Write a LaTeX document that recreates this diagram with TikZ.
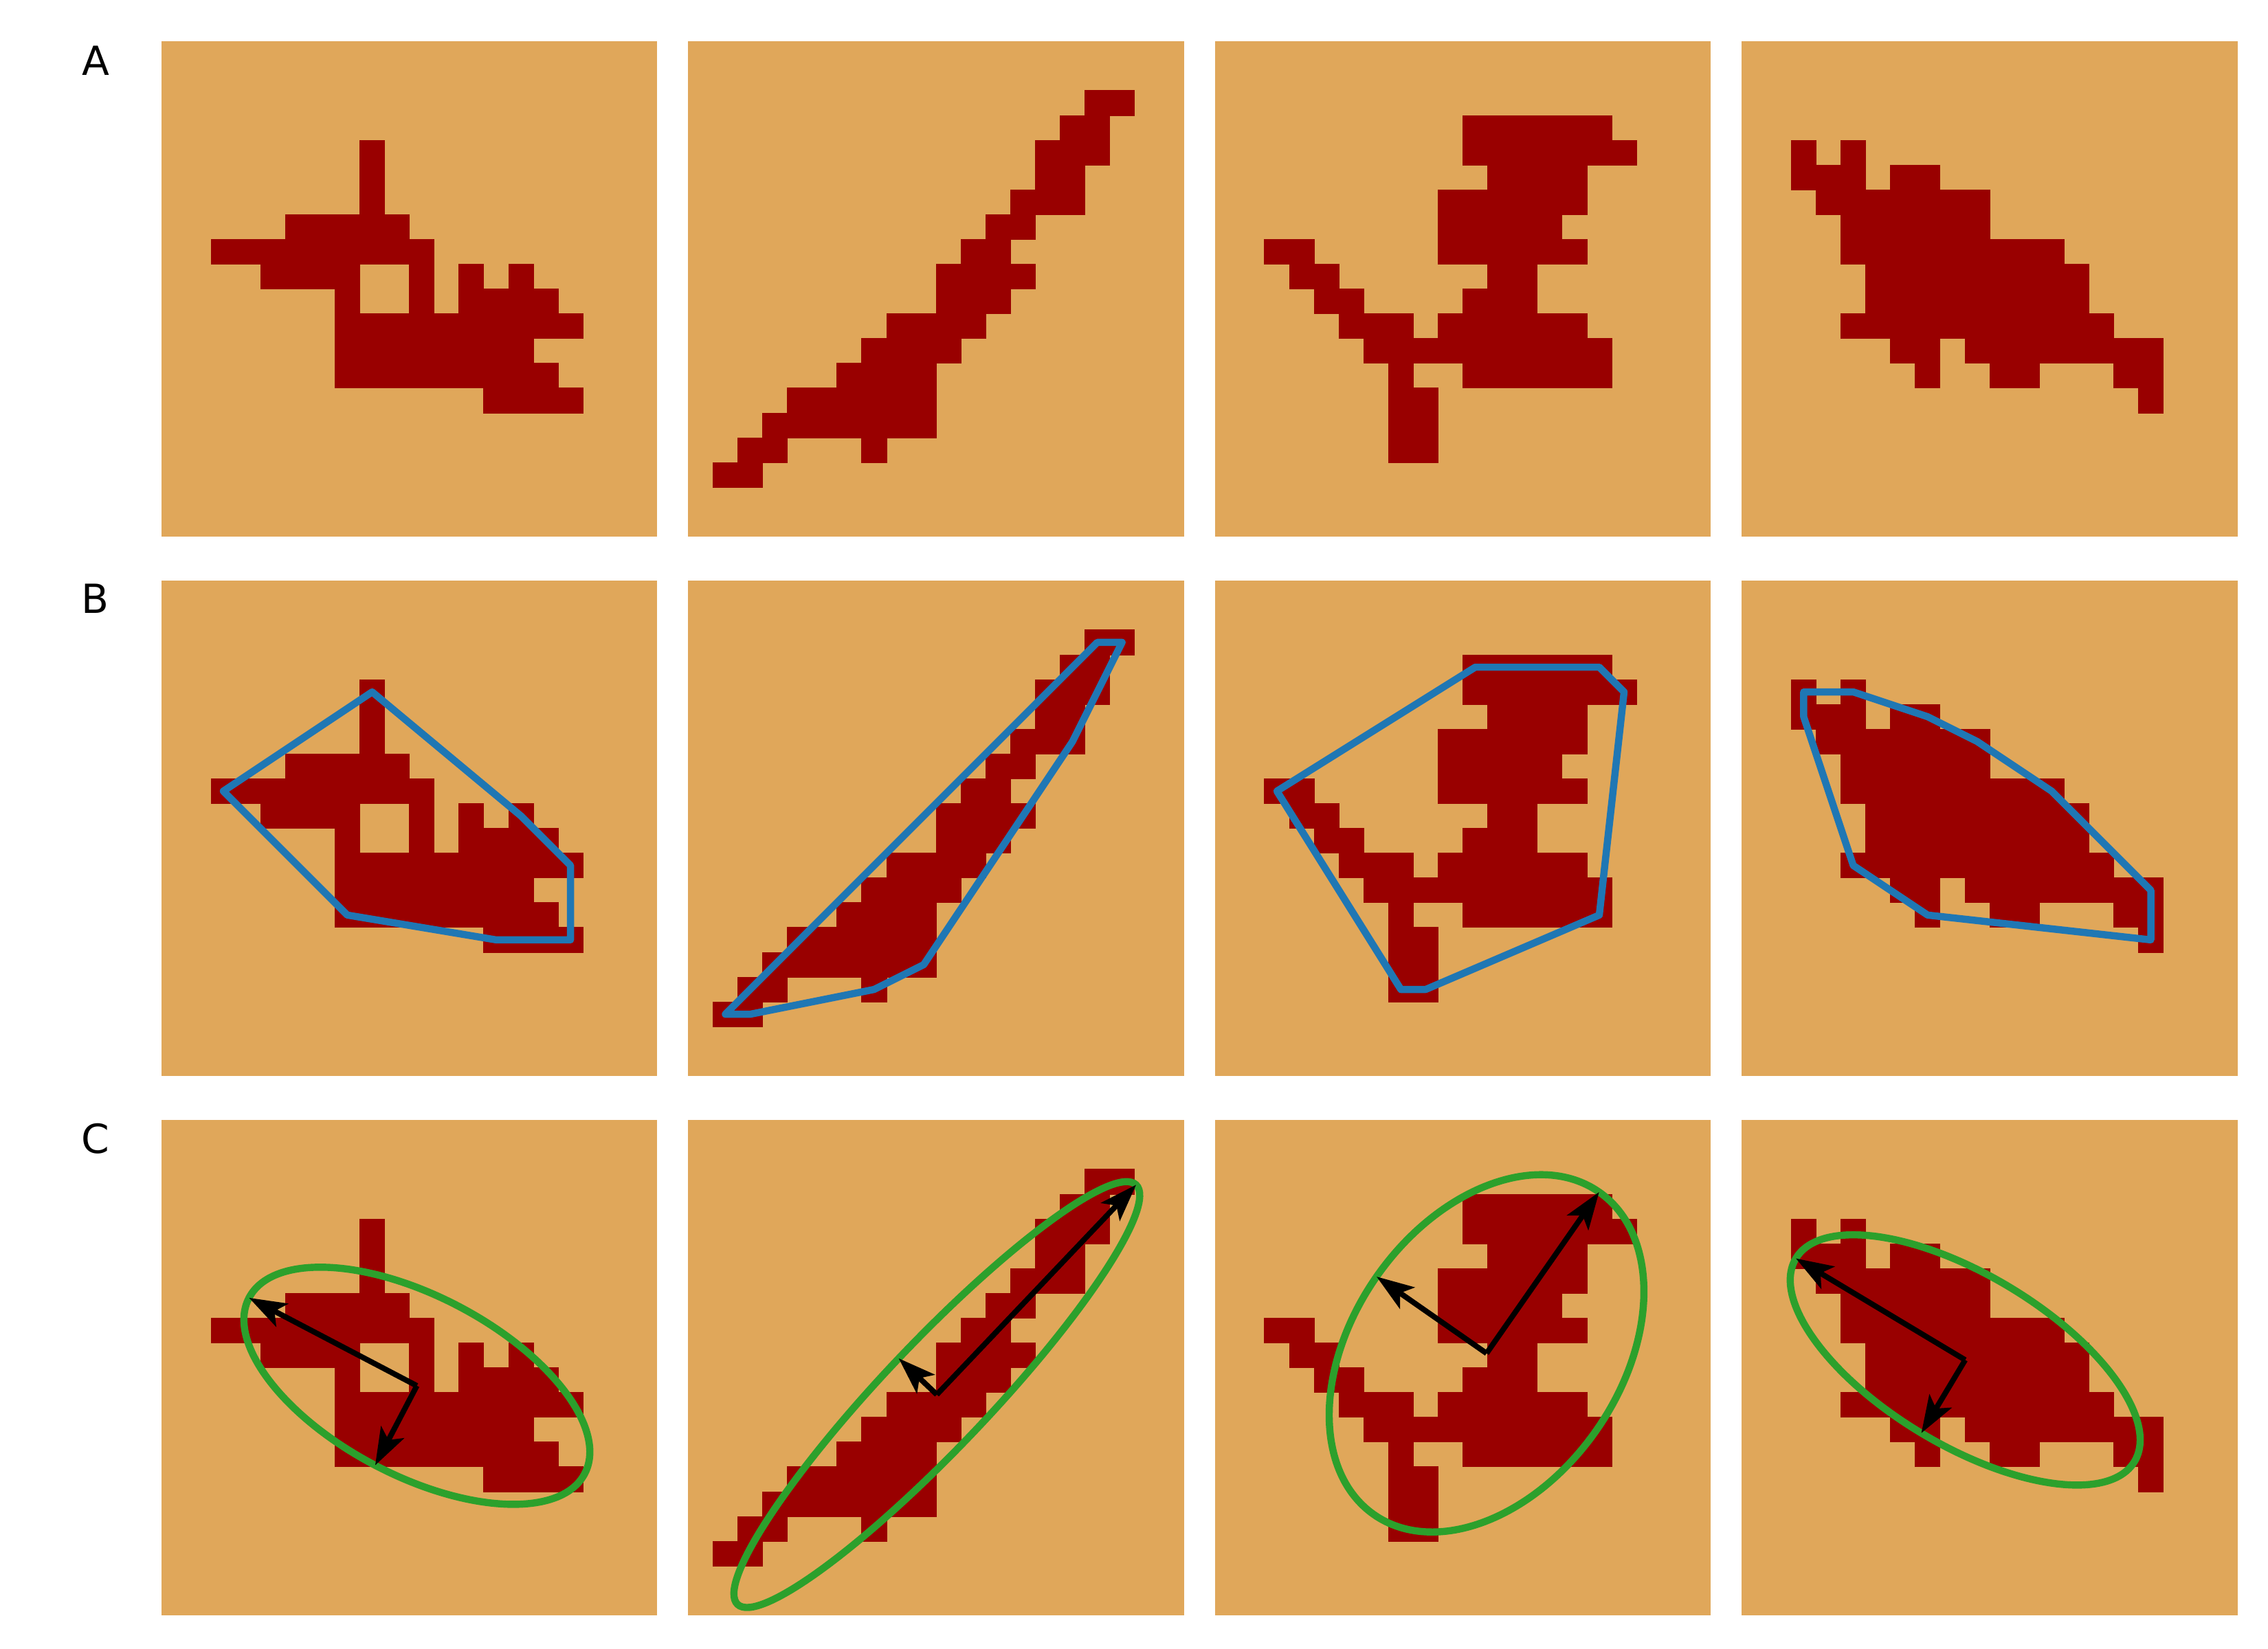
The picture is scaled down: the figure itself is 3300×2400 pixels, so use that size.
\documentclass[tikz,border=0pt]{standalone}
\usepackage{fontspec}
\setmainfont{DejaVu Sans}
\usepackage{tikz}
\usetikzlibrary{arrows.meta}

\definecolor{sand}{RGB}{224,167,90}
\definecolor{blobred}{RGB}{153,0,0}
\definecolor{hullblue}{RGB}{31,119,180}
\definecolor{fitgreen}{RGB}{44,160,44}

% pixel runs of the four shapes: row/first column/last column
\newcommand{\blobone}{\foreach \yy/\xa/\xb in {4/8/8,5/8/8,6/8/8,7/5/9,8/2/10,9/4/7,9/10/10,9/12/12,9/14/14,
    10/7/7,10/10/10,10/12/15,11/7/16,12/7/14,13/7/15,14/13/16}
    {\fill[pix] (\xa,\yy) rectangle (\xb+1,\yy+1);}}
\newcommand{\blobtwo}{\foreach \yy/\xa/\xb in {2/16/17,3/15/16,4/14/16,5/14/15,6/13/15,7/12/13,8/11/12,9/10/13,
    10/10/12,11/8/11,12/7/10,13/6/9,14/4/9,15/3/9,16/2/3,16/7/7,17/1/2}
    {\fill[pix] (\xa,\yy) rectangle (\xb+1,\yy+1);}}
\newcommand{\blobthree}{\foreach \yy/\xa/\xb in {3/10/15,4/10/16,5/11/14,6/9/14,7/9/13,8/2/3,8/9/14,9/3/4,9/11/12,
    10/4/5,10/10/12,11/5/7,11/9/14,12/6/15,13/7/7,13/10/15,14/7/8,15/7/8,16/7/8}
    {\fill[pix] (\xa,\yy) rectangle (\xb+1,\yy+1);}}
\newcommand{\blobfour}{\foreach \yy/\xa/\xb in {4/2/2,4/4/4,5/2/4,5/6/7,6/3/9,7/4/9,8/4/12,9/5/13,10/5/13,
    11/4/14,12/6/7,12/9/16,13/7/7,13/10/11,13/15/16,14/16/16}
    {\fill[pix] (\xa,\yy) rectangle (\xb+1,\yy+1);}}

\begin{document}
\begin{tikzpicture}[x=0.24pt, y=-0.24pt,
    panel/.style 2 args={shift={({234.8+766.45*#1},{59.7+785*#2})}, x=8.66pt, y=-8.66pt},
    pix/.style={fill=blobred, draw=blobred, line width=0.2pt},
    hullline/.style={draw=hullblue, line width=2.5pt, line join=round},
    fitline/.style={draw=fitgreen, line width=2.5pt},
    axisarrow/.style={-{Stealth[length=13pt, width=9pt, inset=3pt]}, line width=1.9pt},
    tag/.style={font=\fontsize{14}{16}\selectfont}]

    \fill[white] (0,0) rectangle (3300,2400);
    \useasboundingbox (0,0) rectangle (3300,2400);

    % the twelve panels
    \foreach \j in {0,1,2}
        \foreach \i/\blob in {0/\blobone,1/\blobtwo,2/\blobthree,3/\blobfour} {
            \begin{scope}[panel={\i}{\j}]
                \fill[sand] (0,0) rectangle (20,20);
                \blob
            \end{scope}
        }

    \node[tag] (labA) at (139,88) {A};
    \node[tag] (labB) at (139,871) {B};
    \node[tag] (labC) at (139,1657) {C};

    % B: convex hulls
    \begin{scope}[panel={0}{1}]
        \draw[hullline] (8.5,4.5) -- (14.5,9.5) -- (16.5,11.5) -- (16.5,14.5) -- (13.5,14.5) -- (7.5,13.5) -- (2.5,8.5) -- cycle;
    \end{scope}
    \begin{scope}[panel={1}{1}]
        \draw[hullline] (1.5,17.5) -- (2.5,17.5) -- (7.5,16.5) -- (9.5,15.5) -- (15.5,6.5) -- (17.5,2.5) -- (16.5,2.5) -- cycle;
    \end{scope}
    \begin{scope}[panel={2}{1}]
        \draw[hullline] (2.5,8.5) -- (10.5,3.5) -- (15.5,3.5) -- (16.5,4.5) -- (15.5,13.5) -- (8.5,16.5) -- (7.5,16.5) -- cycle;
    \end{scope}
    \begin{scope}[panel={3}{1}]
        \draw[hullline] (2.5,4.5) -- (4.5,4.5) -- (7.5,5.5) -- (9.5,6.5) -- (12.5,8.5) -- (16.5,12.5) -- (16.5,14.5)
            -- (7.5,13.5) -- (4.5,11.5) -- (2.5,5.5) -- cycle;
    \end{scope}

    % C: ellipses and principal axes
    \begin{scope}[panel={0}{2}]
        \coordinate (c1) at (10.303,10.730);
        \coordinate (c1maj) at (3.535,7.183);
        \coordinate (c1min) at (8.622,13.938);
        \draw[fitline, rotate around={-27.66:(c1)}] (c1) ellipse [x radius=7.641, y radius=3.622];
        \draw[axisarrow] (c1) -- (c1maj);
        \draw[axisarrow] (c1) -- (c1min);
    \end{scope}
    \begin{scope}[panel={1}{2}]
        \coordinate (c2) at (10.028,11.085);
        \coordinate (c2maj) at (18.065,2.623);
        \coordinate (c2min) at (8.491,9.625);
        \draw[fitline, rotate around={46.48:(c2)}] (c2) ellipse [x radius=11.670, y radius=2.120];
        \draw[axisarrow] (c2) -- (c2maj);
        \draw[axisarrow] (c2) -- (c2min);
    \end{scope}
    \begin{scope}[panel={2}{2}]
        \coordinate (c3) at (10.955,9.422);
        \coordinate (c3maj) at (15.493,2.917);
        \coordinate (c3min) at (6.520,6.329);
        \draw[fitline, rotate around={55.11:(c3)}] (c3) ellipse [x radius=7.933, y radius=5.408];
        \draw[axisarrow] (c3) -- (c3maj);
        \draw[axisarrow] (c3) -- (c3min);
    \end{scope}
    \begin{scope}[panel={3}{2}]
        \coordinate (c4) at (9.014,9.689);
        \coordinate (c4maj) at (2.186,5.594);
        \coordinate (c4min) at (7.245,12.639);
        \draw[fitline, rotate around={-30.95:(c4)}] (c4) ellipse [x radius=7.962, y radius=3.440];
        \draw[axisarrow] (c4) -- (c4maj);
        \draw[axisarrow] (c4) -- (c4min);
    \end{scope}
\end{tikzpicture}
\end{document}
